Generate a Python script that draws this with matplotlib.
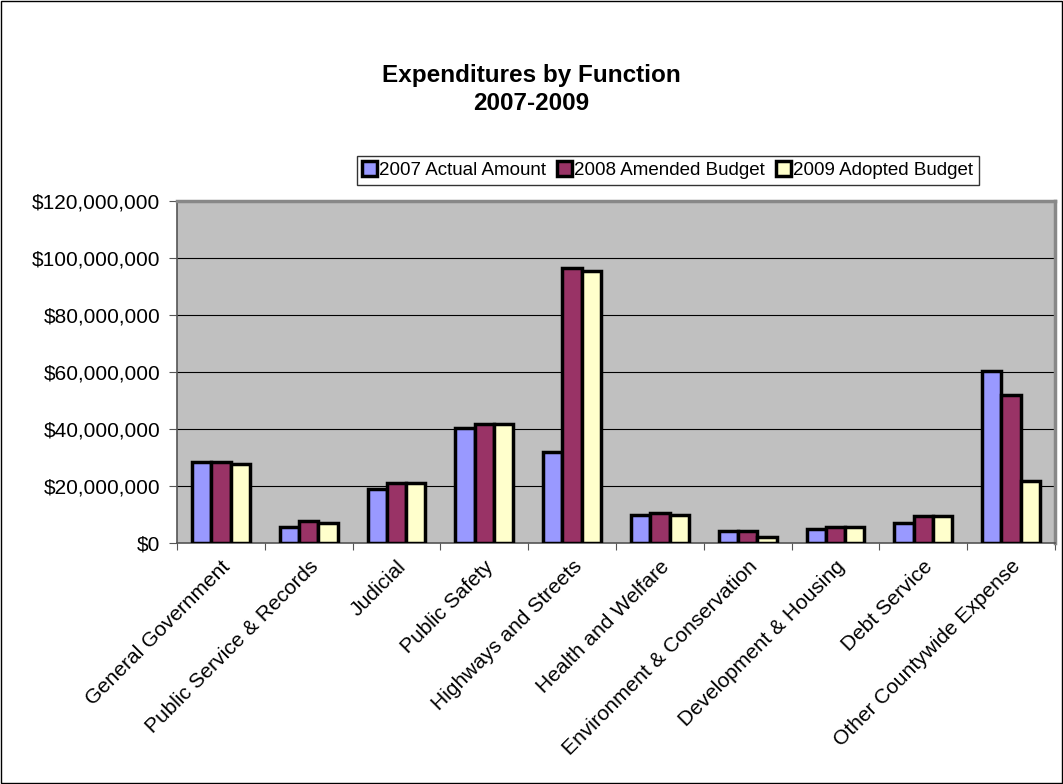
import matplotlib.pyplot as plt
import numpy as np
from matplotlib.ticker import FuncFormatter

plt.rcParams['font.family'] = ['Liberation Sans', 'DejaVu Sans']

categories = ['General Government', 'Public Service & Records', 'Judicial', 'Public Safety',
              'Highways and Streets', 'Health and Welfare', 'Environment & Conservation',
              'Development & Housing', 'Debt Service', 'Other Countywide Expense']
series_names = ['2007 Actual Amount', '2008 Amended Budget', '2009 Adopted Budget']
actual_2007 = [28.4, 5.5, 19.0, 40.4, 31.9, 10.0, 4.1, 4.8, 7.0, 60.3]
amended_2008 = [28.4, 7.6, 21.1, 41.9, 96.5, 10.7, 4.1, 5.7, 9.3, 51.9]
adopted_2009 = [27.6, 6.9, 21.1, 41.9, 95.3, 10.0, 2.0, 5.7, 9.3, 21.9]
colors = ['#9999FF', '#993366', '#FFFFCC']

fig = plt.figure(figsize=(10.63, 7.84), dpi=100)
#outer chart frame
fig.patches.append(plt.Rectangle((0.001, 0.001), 0.998, 0.998, transform=fig.transFigure,
                                 fill=False, edgecolor='black', linewidth=1))
ax = fig.add_axes([0.1665, 0.3074, 0.826, 0.4362])
ax.set_facecolor('#C0C0C0')

x = np.arange(len(categories))
w = 0.22
for i, vals in enumerate([actual_2007, amended_2008, adopted_2009]):
    ax.bar(x + (i - 1) * w, np.array(vals) * 1e6, w, color=colors[i], edgecolor='black',
           linewidth=2.5, label=series_names[i], zorder=3)

ax.set_xlim(-0.5, len(categories) - 0.5)
ax.set_ylim(0, 120e6)
ax.set_yticks(np.arange(0, 120e6 + 1, 20e6))
ax.yaxis.set_major_formatter(FuncFormatter(lambda v, p: f'${v:,.0f}'))
ax.grid(axis='y', color='black', linewidth=0.8, zorder=1)

ax.set_xticks(np.arange(-0.5, len(categories), 1))
ax.set_xticklabels([])
ax.set_xticks(x, minor=True)
ax.set_xticklabels(categories, minor=True, rotation=45, ha='right', va='top',
                   rotation_mode='anchor', fontsize=15)
ax.tick_params(axis='x', which='minor', length=0, pad=10)
ax.tick_params(axis='x', which='major', length=5, direction='out', color='#555555')
ax.tick_params(axis='y', length=6, direction='out', labelsize=15, color='#555555', pad=6)

for s in ['left', 'bottom']:
    ax.spines[s].set_color('#555555')
    ax.spines[s].set_linewidth(1.2)
for s in ['top', 'right']:
    ax.spines[s].set_color('#888888')
    ax.spines[s].set_linewidth(2.5)

fig.text(0.5, 0.886, 'Expenditures by Function\n2007-2009', ha='center', va='center',
         fontsize=17.5, fontweight='bold', linespacing=1.3)

leg = fig.legend(loc='center', bbox_to_anchor=(0.628, 0.783), ncol=3, fontsize=13.5,
                 frameon=True, fancybox=False, edgecolor='black', handlelength=0.8,
                 handleheight=0.8, handletextpad=0.1, columnspacing=0.6,
                 borderpad=0.3)
leg.get_frame().set_linewidth(1)

fig.savefig('out.png', dpi=100)
